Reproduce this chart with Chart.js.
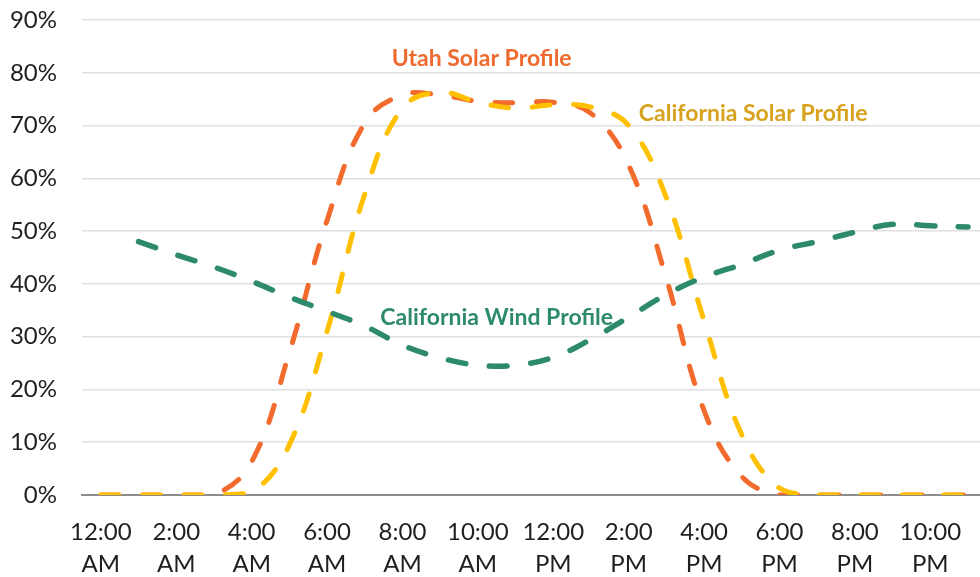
<!DOCTYPE html>
<html>
<head>
<meta charset="utf-8">
<script src="https://cdn.jsdelivr.net/npm/chart.js@4"></script>
<style>
  html, body { margin: 0; padding: 0; background: #ffffff; overflow: hidden; }
  #wrap { width: 980px; height: 577px; overflow: hidden; }
</style>
</head>
<body>
<div id="wrap"><canvas id="c" width="989" height="577"></canvas></div>
<script>
// Hourly categories (one per hour of the day)
const hours = [
  ['12:00','AM'], ['1:00','AM'], ['2:00','AM'], ['3:00','AM'], ['4:00','AM'], ['5:00','AM'],
  ['6:00','AM'], ['7:00','AM'], ['8:00','AM'], ['9:00','AM'], ['10:00','AM'], ['11:00','AM'],
  ['12:00','PM'], ['1:00','PM'], ['2:00','PM'], ['3:00','PM'], ['4:00','PM'], ['5:00','PM'],
  ['6:00','PM'], ['7:00','PM'], ['8:00','PM'], ['9:00','PM'], ['10:00','PM'], ['11:00','PM']
];

// Capacity factor profiles, percent
const utahSolar = [0, 0, 0, 0, 6.3, 27, 52, 70.5, 75.8, 75.8, 74.6, 74.3, 74.4, 72.3, 62.5, 41, 16, 3.5, 0, 0, 0, 0, 0, 0];
const caSolar   = [0, 0, 0, 0, 0.5, 9.5, 31, 57, 73.3, 76.3, 74.4, 73.3, 73.9, 73.5, 70, 56.3, 33, 11.4, 1.3, 0, 0, 0, 0, 0];
const caWind    = [null, 48, 45.5, 43.2, 40.5, 37.5, 34.8, 32, 28.4, 26, 24.6, 24.6, 26.1, 29.5, 33.7, 38, 41.3, 43.7, 46.4, 48, 49.8, 51.3, 51, 50.8];

// In-plot series labels, anchored in data space (category index, percent)
const seriesLabels = [
  { text: 'Utah Solar Profile',       x: 10.1, y: 82.6, color: '#EE6A2E' },
  { text: 'California Solar Profile', x: 17.3, y: 72.2, color: '#D9A21E' },
  { text: 'California Wind Profile',  x: 10.5, y: 33.7, color: '#2E8A6C' }
];

const FONT = 'Lato, "Open Sans", sans-serif';

const labelPlugin = {
  id: 'seriesLabels',
  afterDatasetsDraw(chart) {
    const { ctx, scales } = chart;
    ctx.save();
    ctx.font = 'bold 23px ' + FONT;
    ctx.textAlign = 'center';
    ctx.textBaseline = 'middle';
    seriesLabels.forEach(l => {
      ctx.fillStyle = l.color;
      ctx.fillText(l.text, scales.x.getPixelForValue(l.x), scales.y.getPixelForValue(l.y));
    });
    ctx.restore();
  }
};

const lineStyle = {
  borderWidth: 5,
  borderDash: [18, 23.5],
  borderCapStyle: 'round',
  borderJoinStyle: 'round',
  pointRadius: 0,
  pointHoverRadius: 0,
  tension: 0.4,
  fill: false
};

new Chart(document.getElementById('c'), {
  type: 'line',
  data: {
    labels: hours,
    datasets: [
      Object.assign({ label: 'California Wind Profile', data: caWind, borderColor: '#2E8A6C' }, lineStyle, { borderWidth: 5.5 }),
      Object.assign({ label: 'California Solar Profile', data: caSolar, borderColor: '#FFC000' }, lineStyle),
      Object.assign({ label: 'Utah Solar Profile', data: utahSolar, borderColor: '#F26B2C' }, lineStyle)
    ]
  },
  options: {
    responsive: false,
    animation: false,
    layout: { padding: 0 },
    plugins: {
      legend: { display: false },
      tooltip: { enabled: false }
    },
    scales: {
      x: {
        type: 'category',
        offset: true,
        grid: { display: false, drawTicks: false },
        border: { display: true, color: '#8c8c8c', width: 2 },
        afterFit(scale) { scale.height = 82; },
        ticks: {
          autoSkip: false,
          maxRotation: 0,
          padding: 21,
          color: '#1f1f1f',
          font: { family: FONT, size: 24, lineHeight: 1.354 },
          callback(value, index) { return index % 2 === 0 ? hours[index] : ''; }
        }
      },
      y: {
        min: 0,
        max: 90,
        grid: { color: '#e0e0e0', lineWidth: 1.5, drawTicks: false },
        border: { display: false },
        afterFit(scale) { scale.width = 82; scale.paddingTop = 20; scale.paddingBottom = 0; },
        ticks: {
          stepSize: 10,
          padding: 25,
          color: '#1f1f1f',
          font: { family: FONT, size: 24 },
          callback(v) { return v + '%'; }
        }
      }
    }
  },
  plugins: [labelPlugin]
});
</script>
</body>
</html>
